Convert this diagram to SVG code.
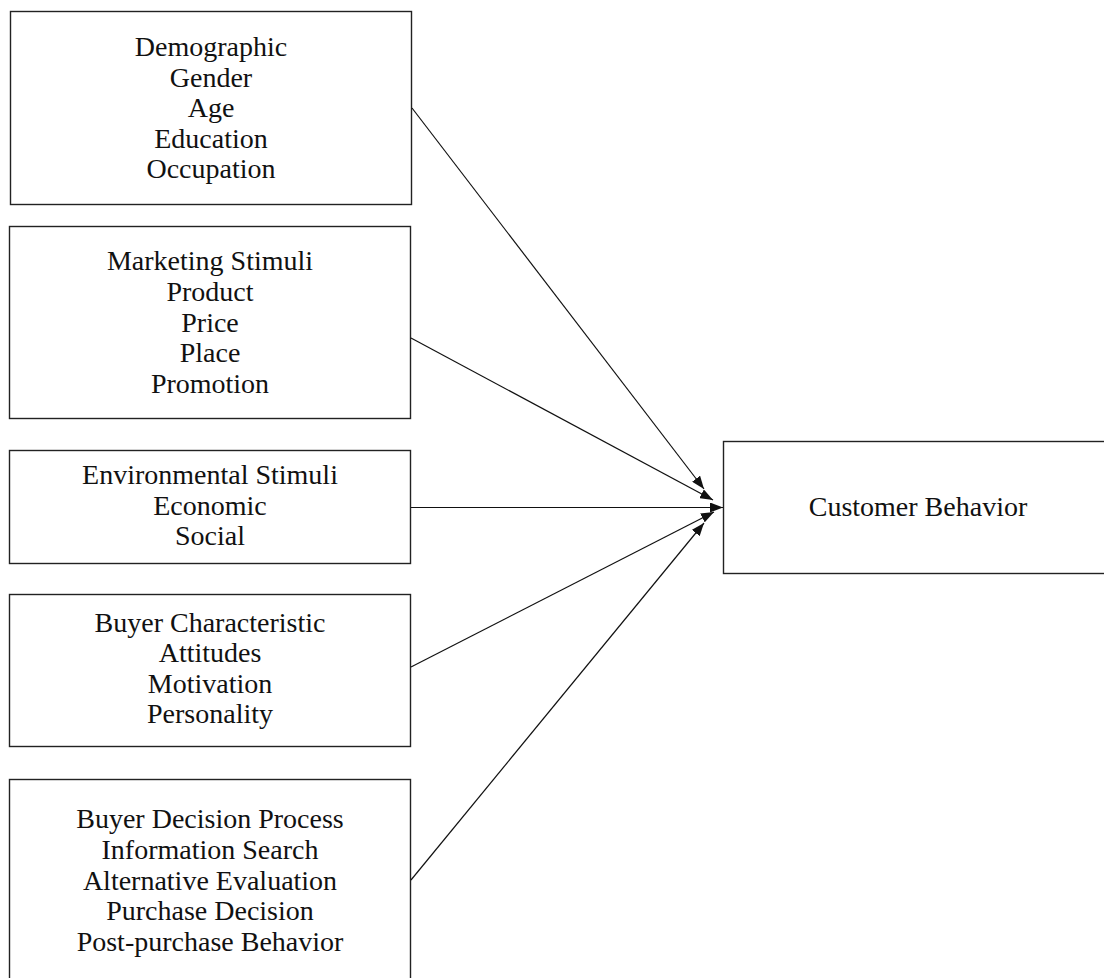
<svg xmlns="http://www.w3.org/2000/svg" width="1104" height="978" viewBox="0 0 1104 978">
<style>
.box{fill:#fff;stroke:#222;stroke-width:1.4}
.t{font-family:"Liberation Serif","Times New Roman",serif;font-size:28px;fill:#111;text-anchor:middle}
.c{stroke:#111;stroke-width:1.2;fill:none;marker-end:url(#ah)}
</style>
<defs>
<marker id="ah" markerUnits="userSpaceOnUse" markerWidth="14" markerHeight="10" refX="13" refY="5" orient="auto">
<path d="M0,0 L13,5 L0,10 Z" fill="#111"/>
</marker>
</defs>
<rect width="1104" height="978" fill="#fff"/>
<g id="n-demographic">
<rect class="box" x="10.5" y="11.5" width="401" height="193"/>
<text class="t" x="211" y="56">Demographic</text>
<text class="t" x="211" y="86.5">Gender</text>
<text class="t" x="211" y="117">Age</text>
<text class="t" x="211" y="147.5">Education</text>
<text class="t" x="211" y="178">Occupation</text>
</g>
<g id="n-marketing">
<rect class="box" x="9.5" y="226.5" width="401" height="192"/>
<text class="t" x="210" y="270">Marketing Stimuli</text>
<text class="t" x="210" y="300.75">Product</text>
<text class="t" x="210" y="331.5">Price</text>
<text class="t" x="210" y="362.25">Place</text>
<text class="t" x="210" y="393">Promotion</text>
</g>
<g id="n-environmental">
<rect class="box" x="9.5" y="450.5" width="401" height="113"/>
<text class="t" x="210" y="484">Environmental Stimuli</text>
<text class="t" x="210" y="514.5">Economic</text>
<text class="t" x="210" y="545">Social</text>
</g>
<g id="n-buyer-char">
<rect class="box" x="9.5" y="594.5" width="401" height="152"/>
<text class="t" x="210" y="632">Buyer Characteristic</text>
<text class="t" x="210" y="662.3">Attitudes</text>
<text class="t" x="210" y="692.6">Motivation</text>
<text class="t" x="210" y="723">Personality</text>
</g>
<g id="n-buyer-decision">
<rect class="box" x="9.5" y="779.5" width="401" height="210"/>
<text class="t" x="210" y="828">Buyer Decision Process</text>
<text class="t" x="210" y="858.75">Information Search</text>
<text class="t" x="210" y="889.5">Alternative Evaluation</text>
<text class="t" x="210" y="920.25">Purchase Decision</text>
<text class="t" x="210" y="951">Post-purchase Behavior</text>
</g>
<g id="n-customer">
<rect class="box" x="723.5" y="441.5" width="400" height="132"/>
<text class="t" x="918" y="516">Customer Behavior</text>
</g>
<g id="connectors">
<line class="c" x1="412" y1="108" x2="704" y2="489"/>
<line class="c" x1="411" y1="338" x2="713" y2="500"/>
<line class="c" x1="411" y1="507.5" x2="723" y2="507.5"/>
<line class="c" x1="411" y1="667" x2="714" y2="512"/>
<line class="c" x1="411" y1="880" x2="704" y2="523"/>
</g>
</svg>
